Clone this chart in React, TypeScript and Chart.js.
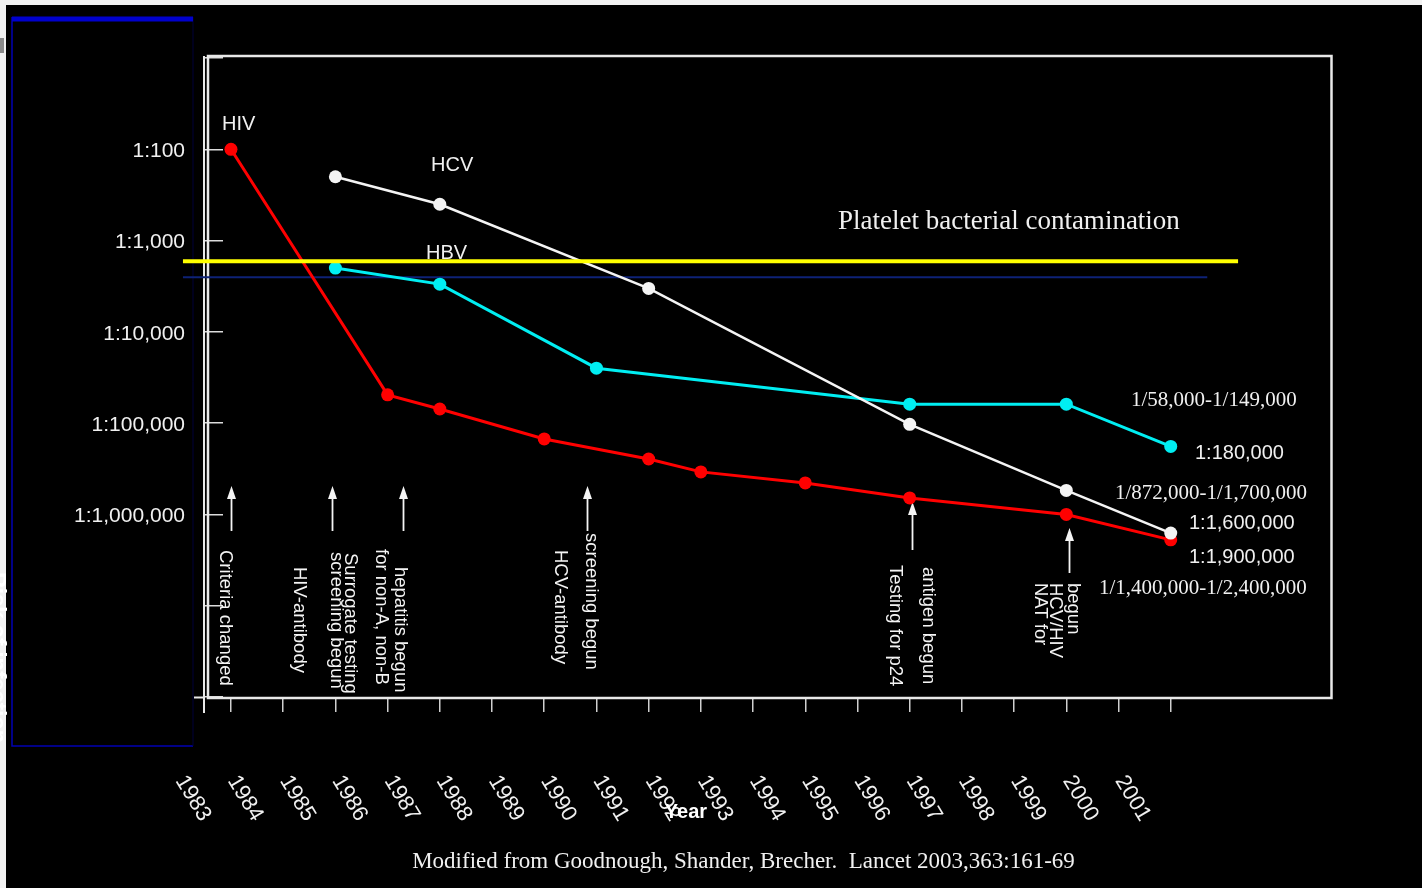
import React, { useEffect, useRef } from 'react';
import { Chart, registerables } from 'chart.js';

Chart.register(...registerables);

// ---- data ----
const xTickYears = [1983, 1984, 1985, 1986, 1987, 1988, 1989, 1990, 1991, 1992, 1993, 1994, 1995, 1996, 1997, 1998, 1999, 2000, 2001];
const xTickLabels = ['1983', '1984', '1985', '1986', '1987', '1988', '1989', '1990', '1991', '1992', '1993', '1994', '1995', '1996', '1997', '1998', '1999', '2000', '2001'];

const hivYears = [1983, 1986, 1987, 1989, 1991, 1992, 1994, 1996, 1999, 2001];
const hivRisk = [100, 49000, 70000, 149000, 247000, 342000, 452000, 660000, 1000000, 1900000];

const hcvYears = [1985, 1987, 1991, 1996, 1999, 2001];
const hcvRisk = [200, 400, 3340, 103000, 546000, 1600000];

const hbvYears = [1985, 1987, 1990, 1996, 1999, 2001];
const hbvRisk = [2000, 3000, 25000, 62000, 62000, 180000];

const plateletYears = [1982.08, 2002.29];
const plateletRisk = [1690, 1690];

const refLineYears = [1982.08, 2001.7];
const refLineRisk = [2530, 2530];

const yTickValues = [10, 100, 1000, 10000, 100000, 1000000, 10000000, 100000000];
const yTickLabels = ['', '1:100', '1:1,000', '1:10,000', '1:100,000', '1:1,000,000', '', ''];

const seriesNames = ['HIV', 'HCV', 'HBV'];
const plateletLabel = 'Platelet bacterial contamination';
const rightNotes = ['1/58,000-1/149,000', '1:180,000', '1/872,000-1/1,700,000', '1:1,600,000', '1:1,900,000', '1/1,400,000-1/2,400,000'];
const eventYears = [1983, 1984.93, 1986.29, 1989.82, 1996.05, 1999.05];
const eventTexts = ['Criteria changed', 'HIV-antibody', 'screening begun', 'Surrogate testing', 'for non-A, non-B', 'hepatitis begun', 'HCV-antibody', 'screening begun', 'Testing for p24', 'antigen begun', 'NAT for', 'HCV/HIV', 'begun'];
const xTitle = 'Year';
const yTitle = 'Risk of infection';
const caption = 'Modified from Goodnough, Shander, Brecher.  Lancet 2003,363:161-69';

const SANS = '"Liberation Sans", Arial, sans-serif';
const SERIF = '"Liberation Serif", "Times New Roman", serif';

const pts = (xs: number[], ys: number[]) => xs.map((x, i) => ({ x, y: ys[i] }));

const decor = {
  id: 'decor',
  beforeDraw(chart: any) {
    const ctx = chart.ctx;
    ctx.save();
    ctx.fillStyle = '#f2f2f2';
    ctx.fillRect(0, 0, 1422, 888);
    ctx.fillStyle = '#000000';
    ctx.fillRect(6, 5, 1416, 883);
    // faint hidden axis title at the left border
    ctx.save();
    ctx.translate(-3, 572);
    ctx.rotate(Math.PI / 2);
    ctx.fillStyle = '#ffffff';
    ctx.font = 'bold 22px ' + SANS;
    ctx.textBaseline = 'middle';
    ctx.textAlign = 'left';
    ctx.fillText(yTitle, 0, 0);
    ctx.restore();
    ctx.fillStyle = '#8a8a8a';
    ctx.fillRect(0, 38, 4, 15);
    // blue box
    ctx.strokeStyle = '#0000b4';
    ctx.lineWidth = 1.5;
    ctx.beginPath();
    ctx.moveTo(12, 17);
    ctx.lineTo(12, 746);
    ctx.lineTo(193, 746);
    ctx.stroke();
    ctx.strokeStyle = '#00003a';
    ctx.lineWidth = 1;
    ctx.beginPath();
    ctx.moveTo(193, 17);
    ctx.lineTo(193, 746);
    ctx.stroke();
    ctx.fillStyle = '#0000cc';
    ctx.fillRect(12, 16.5, 181, 5);
    ctx.restore();
  },
  beforeDatasetsDraw(chart: any) {
    const ctx = chart.ctx;
    const xs = chart.scales.x;
    ctx.save();
    // frame
    ctx.strokeStyle = '#e8e8e8';
    ctx.lineWidth = 2.5;
    ctx.strokeRect(208, 56, 1123.5, 642);
    // axis line
    ctx.lineWidth = 2;
    ctx.beginPath();
    ctx.moveTo(204, 56);
    ctx.lineTo(204, 713);
    ctx.moveTo(194, 697.5);
    ctx.lineTo(204, 697.5);
    ctx.stroke();

    // arrows
    const tops = [486, 486, 486, 486, 502, 528];
    const bots = [531, 531, 531, 531, 550, 573];
    ctx.strokeStyle = '#f4f4f4';
    ctx.fillStyle = '#f4f4f4';
    ctx.lineWidth = 1.8;
    eventYears.forEach((yr, i) => {
      const px = Math.round(xs.getPixelForValue(yr)) + 0.5;
      ctx.beginPath();
      ctx.moveTo(px, tops[i] + 10);
      ctx.lineTo(px, bots[i]);
      ctx.stroke();
      ctx.beginPath();
      ctx.moveTo(px, tops[i]);
      ctx.lineTo(px - 4.5, tops[i] + 13);
      ctx.lineTo(px + 4.5, tops[i] + 13);
      ctx.closePath();
      ctx.fill();
    });

    // rotated event notes
    const noteX = [225, 299, 336, 350.5, 381, 400.5, 560, 591.5, 895, 928, 1040, 1055, 1073];
    const noteY = [550, 567, 552, 553, 549, 567, 550, 533, 565, 567, 583, 583, 583];
    ctx.font = '18.5px ' + SANS;
    ctx.textAlign = 'left';
    ctx.textBaseline = 'middle';
    eventTexts.forEach((t, i) => {
      ctx.save();
      ctx.translate(noteX[i], noteY[i]);
      ctx.rotate(Math.PI / 2);
      ctx.fillText(t, 0, 0);
      ctx.restore();
    });

    // series names
    ctx.font = '20px ' + SANS;
    ctx.fillStyle = '#f0f0f0';
    const nameX = [222, 431, 426];
    const nameY = [124, 165, 253];
    seriesNames.forEach((n, i) => ctx.fillText(n, nameX[i], nameY[i]));

    // platelet label
    ctx.font = '27px ' + SERIF;
    ctx.textBaseline = 'alphabetic';
    ctx.fillText(plateletLabel, 838, 228.5);

    // right notes
    const rx = [1131, 1195, 1115, 1189, 1189, 1099];
    const ry = [400, 453, 493, 523, 557, 588];
    const serif = [true, false, true, false, false, true];
    ctx.textBaseline = 'middle';
    rightNotes.forEach((t, i) => {
      ctx.font = serif[i] ? '21px ' + SERIF : '20px ' + SANS;
      ctx.fillText(t, rx[i], ry[i]);
    });
    ctx.restore();
  },
  afterDraw(chart: any) {
    const ctx = chart.ctx;
    const xs = chart.scales.x;
    ctx.save();
    ctx.fillStyle = '#f0f0f0';
    ctx.font = '22px ' + SANS;
    ctx.textAlign = 'left';
    ctx.textBaseline = 'middle';
    const ang = (59 * Math.PI) / 180;
    xTickYears.forEach((yr, i) => {
      const px = xs.getPixelForValue(yr - 1);
      ctx.save();
      ctx.translate(px + 1.5, 777.5);
      ctx.rotate(ang);
      ctx.fillText(xTickLabels[i], 0, 0);
      ctx.restore();
    });
    ctx.font = 'bold 20px ' + SANS;
    ctx.textAlign = 'center';
    ctx.fillStyle = '#ffffff';
    ctx.fillText(xTitle, 686, 812);
    ctx.font = '23px ' + SERIF;
    ctx.fillStyle = '#f0f0f0';
    ctx.fillText(caption, 743.5, 862);
    ctx.restore();
  },
};

export default function App() {
  const ref = useRef<HTMLCanvasElement | null>(null);
  useEffect(() => {
    if (!ref.current) return;
    const chart = new Chart(ref.current, {
      type: 'line',
      data: {
        datasets: [
          {
            label: plateletLabel,
            data: pts(plateletYears, plateletRisk),
            borderColor: '#ffff00',
            borderWidth: 4,
            pointRadius: 0,
            clip: false,
          } as any,
          {
            label: 'HCV',
            data: pts(hcvYears, hcvRisk),
            borderColor: '#f4f4f4',
            backgroundColor: '#f4f4f4',
            borderWidth: 2.5,
            pointRadius: 6.5,
            pointBorderWidth: 0,
            pointBackgroundColor: '#f4f4f4',
          },
          {
            label: 'HIV',
            data: pts(hivYears, hivRisk),
            borderColor: '#ff0000',
            backgroundColor: '#ff0000',
            borderWidth: 3,
            pointRadius: 6.5,
            pointBorderWidth: 0,
            pointBackgroundColor: '#ff0000',
          },
          {
            label: 'HBV',
            data: pts(hbvYears, hbvRisk),
            borderColor: '#00eef2',
            backgroundColor: '#00eef2',
            borderWidth: 3,
            pointRadius: 6.5,
            pointBorderWidth: 0,
            pointBackgroundColor: '#00eef2',
          },
          {
            label: 'ref',
            data: pts(refLineYears, refLineRisk),
            borderColor: '#0e2277',
            borderWidth: 2,
            pointRadius: 0,
            clip: false,
          } as any,
        ],
      },
      options: {
        responsive: false,
        animation: false,
        devicePixelRatio: 1,
        layout: { padding: { left: 0, top: 58, right: 91, bottom: 0 } },
        plugins: { legend: { display: false }, tooltip: { enabled: false }, title: { display: false } },
        elements: { line: { tension: 0 } },
        scales: {
          x: {
            type: 'linear',
            min: 1982.483,
            max: 2004.07,
            afterBuildTicks: (s: any) => {
              s.ticks = xTickYears.map((v) => ({ value: v }));
            },
            afterFit: (s: any) => {
              s.height = 191;
            },
            ticks: { display: false },
            grid: { drawOnChartArea: false, drawTicks: true, tickLength: 15, color: '#cfcfcf', lineWidth: 1.5 },
            border: { display: false },
          },
          y: {
            type: 'logarithmic',
            reverse: true,
            min: 10,
            max: 100000000,
            afterBuildTicks: (s: any) => {
              s.ticks = yTickValues.map((v) => ({ value: v }));
            },
            afterFit: (s: any) => {
              s.width = 204;
            },
            ticks: {
              padding: 38,
              labelOffset: 2,
              color: '#f0f0f0',
              font: { family: '"Liberation Sans", Arial, sans-serif', size: 21 },
              callback: (v: any) => {
                const i = yTickValues.indexOf(Number(v));
                return i >= 0 ? yTickLabels[i] : '';
              },
            },
            grid: { drawOnChartArea: false, drawTicks: true, tickLength: -19, color: '#dcdcdc', lineWidth: 1.5 },
            border: { display: false },
          },
        },
      },
      plugins: [decor],
    } as any);
    return () => chart.destroy();
  }, []);
  return (
    <div style={{ position: 'absolute', left: 0, top: 0, width: 1422, height: 888 }}>
      <canvas ref={ref} width={1422} height={888} style={{ display: 'block' }} />
    </div>
  );
}
